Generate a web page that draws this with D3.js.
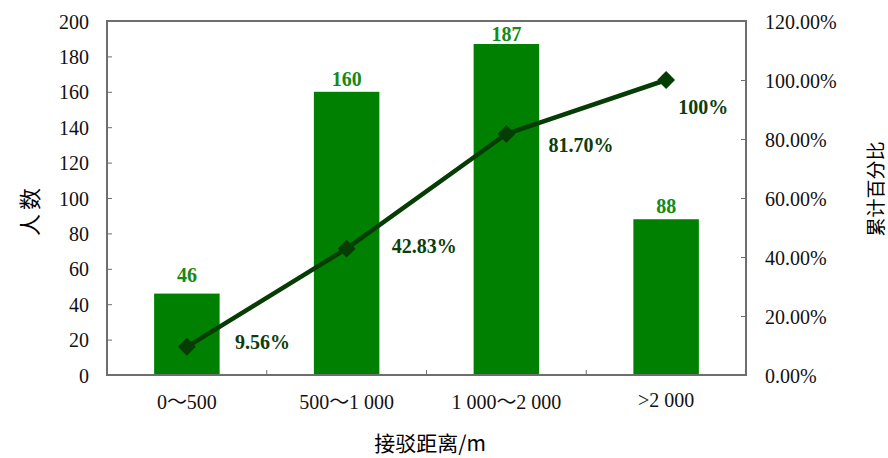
<!DOCTYPE html>
<html>
<head>
    <meta charset="utf-8">
    <title>接驳距离分布</title>
    <script type="text/javascript" src="https://cdn.jsdelivr.net/npm/d3@7"></script>
    <style>
        body { margin: 0; background: #fff; }
        .serif { font-family: "Liberation Serif", "Times New Roman", "Noto Sans CJK SC", serif; }
        .cjk { font-family: "Noto Sans CJK SC", sans-serif; }
    </style>
</head>
<body>
<script type="text/javascript">
    // data
    var categories = ["0～500", "500～1 000", "1 000～2 000", ">2 000"];
    var counts = [46, 160, 187, 88];
    var cumPercent = [9.56, 42.83, 81.70, 100];
    var cumLabels = ["9.56%", "42.83%", "81.70%", "100%"];
    var leftTicks = [0, 20, 40, 60, 80, 100, 120, 140, 160, 180, 200];
    var rightTicks = [0, 20, 40, 60, 80, 100, 120];

    var w = 888, h = 458,
        m = {top: 21, right: 142, bottom: 83, left: 107};

    // hand-tuned label offsets (layout only)
    var barLabelGap = [12, 6, 3, 6];
    var lineLabelOff = [[48, 2], [45, 4], [42, 18], [12, 34]];

    var svg = d3.select("body").append("svg")
        .attr("width", w)
        .attr("height", h);

    var x = d3.scaleBand()
        .domain(categories)
        .range([m.left, w - m.right])
        .paddingInner(0.59)
        .paddingOuter(0.295);

    var xc = d3.scaleBand().domain(categories).range([m.left, w - m.right]);

    var y = d3.scaleLinear().domain([0, 200]).range([h - m.bottom, m.top]);
    var y2 = d3.scaleLinear().domain([0, 120]).range([h - m.bottom, m.top]);

    // bars
    svg.selectAll("rect.bar")
        .data(counts)
        .enter().append("rect")
        .attr("class", "bar")
        .attr("x", function(d, i) { return x(categories[i]); })
        .attr("width", x.bandwidth())
        .attr("y", function(d) { return y(d); })
        .attr("height", function(d) { return y(0) - y(d); })
        .style("fill", "#008000");

    svg.selectAll("text.barlab")
        .data(counts)
        .enter().append("text")
        .attr("class", "serif")
        .attr("x", function(d, i) { return xc(categories[i]) + xc.bandwidth() / 2; })
        .attr("y", function(d, i) { return y(d) - barLabelGap[i]; })
        .attr("text-anchor", "middle")
        .style("font-size", "20px")
        .style("font-weight", "bold")
        .style("fill", "#168a16")
        .text(function(d) { return d; });

    // frame + axes
    var axisColor = "#6e6e6e";
    svg.append("rect")
        .attr("x", m.left).attr("y", m.top)
        .attr("width", w - m.left - m.right)
        .attr("height", h - m.top - m.bottom)
        .style("fill", "none")
        .style("stroke", axisColor)
        .style("stroke-width", 2);

    var gl = svg.append("g")
        .attr("transform", "translate(" + m.left + ",0)")
        .call(d3.axisLeft(y).tickValues(leftTicks).tickSizeInner(-5).tickSizeOuter(0).tickPadding(18));
    var gr = svg.append("g")
        .attr("transform", "translate(" + (w - m.right) + ",0)")
        .call(d3.axisRight(y2).tickValues(rightTicks).tickSizeInner(-5).tickSizeOuter(0).tickPadding(19)
            .tickFormat(function(d) { return d.toFixed(2) + "%"; }));
    var gb = svg.append("g")
        .attr("transform", "translate(0," + (h - m.bottom) + ")")
        .call(d3.axisBottom(xc).tickSize(0).tickPadding(20));

    // category divider ticks on the bottom axis
    svg.selectAll("line.div")
        .data(categories.slice(1))
        .enter().append("line")
        .attr("x1", function(d) { return xc(d); })
        .attr("x2", function(d) { return xc(d); })
        .attr("y1", h - m.bottom)
        .attr("y2", h - m.bottom - 5)
        .style("stroke", axisColor);

    [gl, gr, gb].forEach(function(g) {
        g.select(".domain").remove();
        g.selectAll(".tick line").style("stroke", axisColor);
        g.selectAll("text")
            .attr("class", "serif")
            .style("font-size", "20px")
            .style("fill", "#111");
    });
    gl.selectAll("text").attr("dy", "0.35em");
    gr.selectAll("text").attr("dy", "0.35em");
    gb.selectAll("text").filter(function(d) { return d === ">2 000"; }).attr("dy", "0.61em");

    // cumulative line
    var px = function(d, i) { return xc(categories[i]) + xc.bandwidth() / 2; };
    var line = d3.line()
        .x(px)
        .y(function(d) { return y2(d); });

    svg.append("path")
        .datum(cumPercent)
        .attr("d", line)
        .style("fill", "none")
        .style("stroke", "#053d05")
        .style("stroke-width", 4.5);

    svg.selectAll("path.pt")
        .data(cumPercent)
        .enter().append("path")
        .attr("d", d3.symbol().type(d3.symbolSquare).size(160))
        .attr("transform", function(d, i) {
            return "translate(" + px(d, i) + "," + y2(d) + ") rotate(45)";
        })
        .style("fill", "#053d05");

    svg.selectAll("text.linelab")
        .data(cumPercent)
        .enter().append("text")
        .attr("class", "serif")
        .attr("x", function(d, i) { return px(d, i) + lineLabelOff[i][0]; })
        .attr("y", function(d, i) { return y2(d) + lineLabelOff[i][1]; })
        .style("font-size", "20px")
        .style("font-weight", "bold")
        .style("fill", "#0d3d0d")
        .text(function(d, i) { return cumLabels[i]; });

    // axis titles
    svg.append("text")
        .attr("class", "cjk")
        .attr("transform", "translate(30,210) rotate(-90)")
        .attr("text-anchor", "middle")
        .attr("dy", "0.35em")
        .style("font-size", "22px")
        .style("letter-spacing", "4px")
        .text("人数");

    svg.append("text")
        .attr("class", "cjk")
        .attr("transform", "translate(876,189) rotate(-90)")
        .attr("text-anchor", "middle")
        .attr("dy", "0.35em")
        .style("font-size", "19px")
        .text("累计百分比");

    svg.append("text")
        .attr("class", "cjk")
        .attr("x", 430)
        .attr("y", 444)
        .attr("text-anchor", "middle")
        .attr("dy", "0.35em")
        .style("font-size", "21px")
        .text("接驳距离/m");
</script>
</body>
</html>
